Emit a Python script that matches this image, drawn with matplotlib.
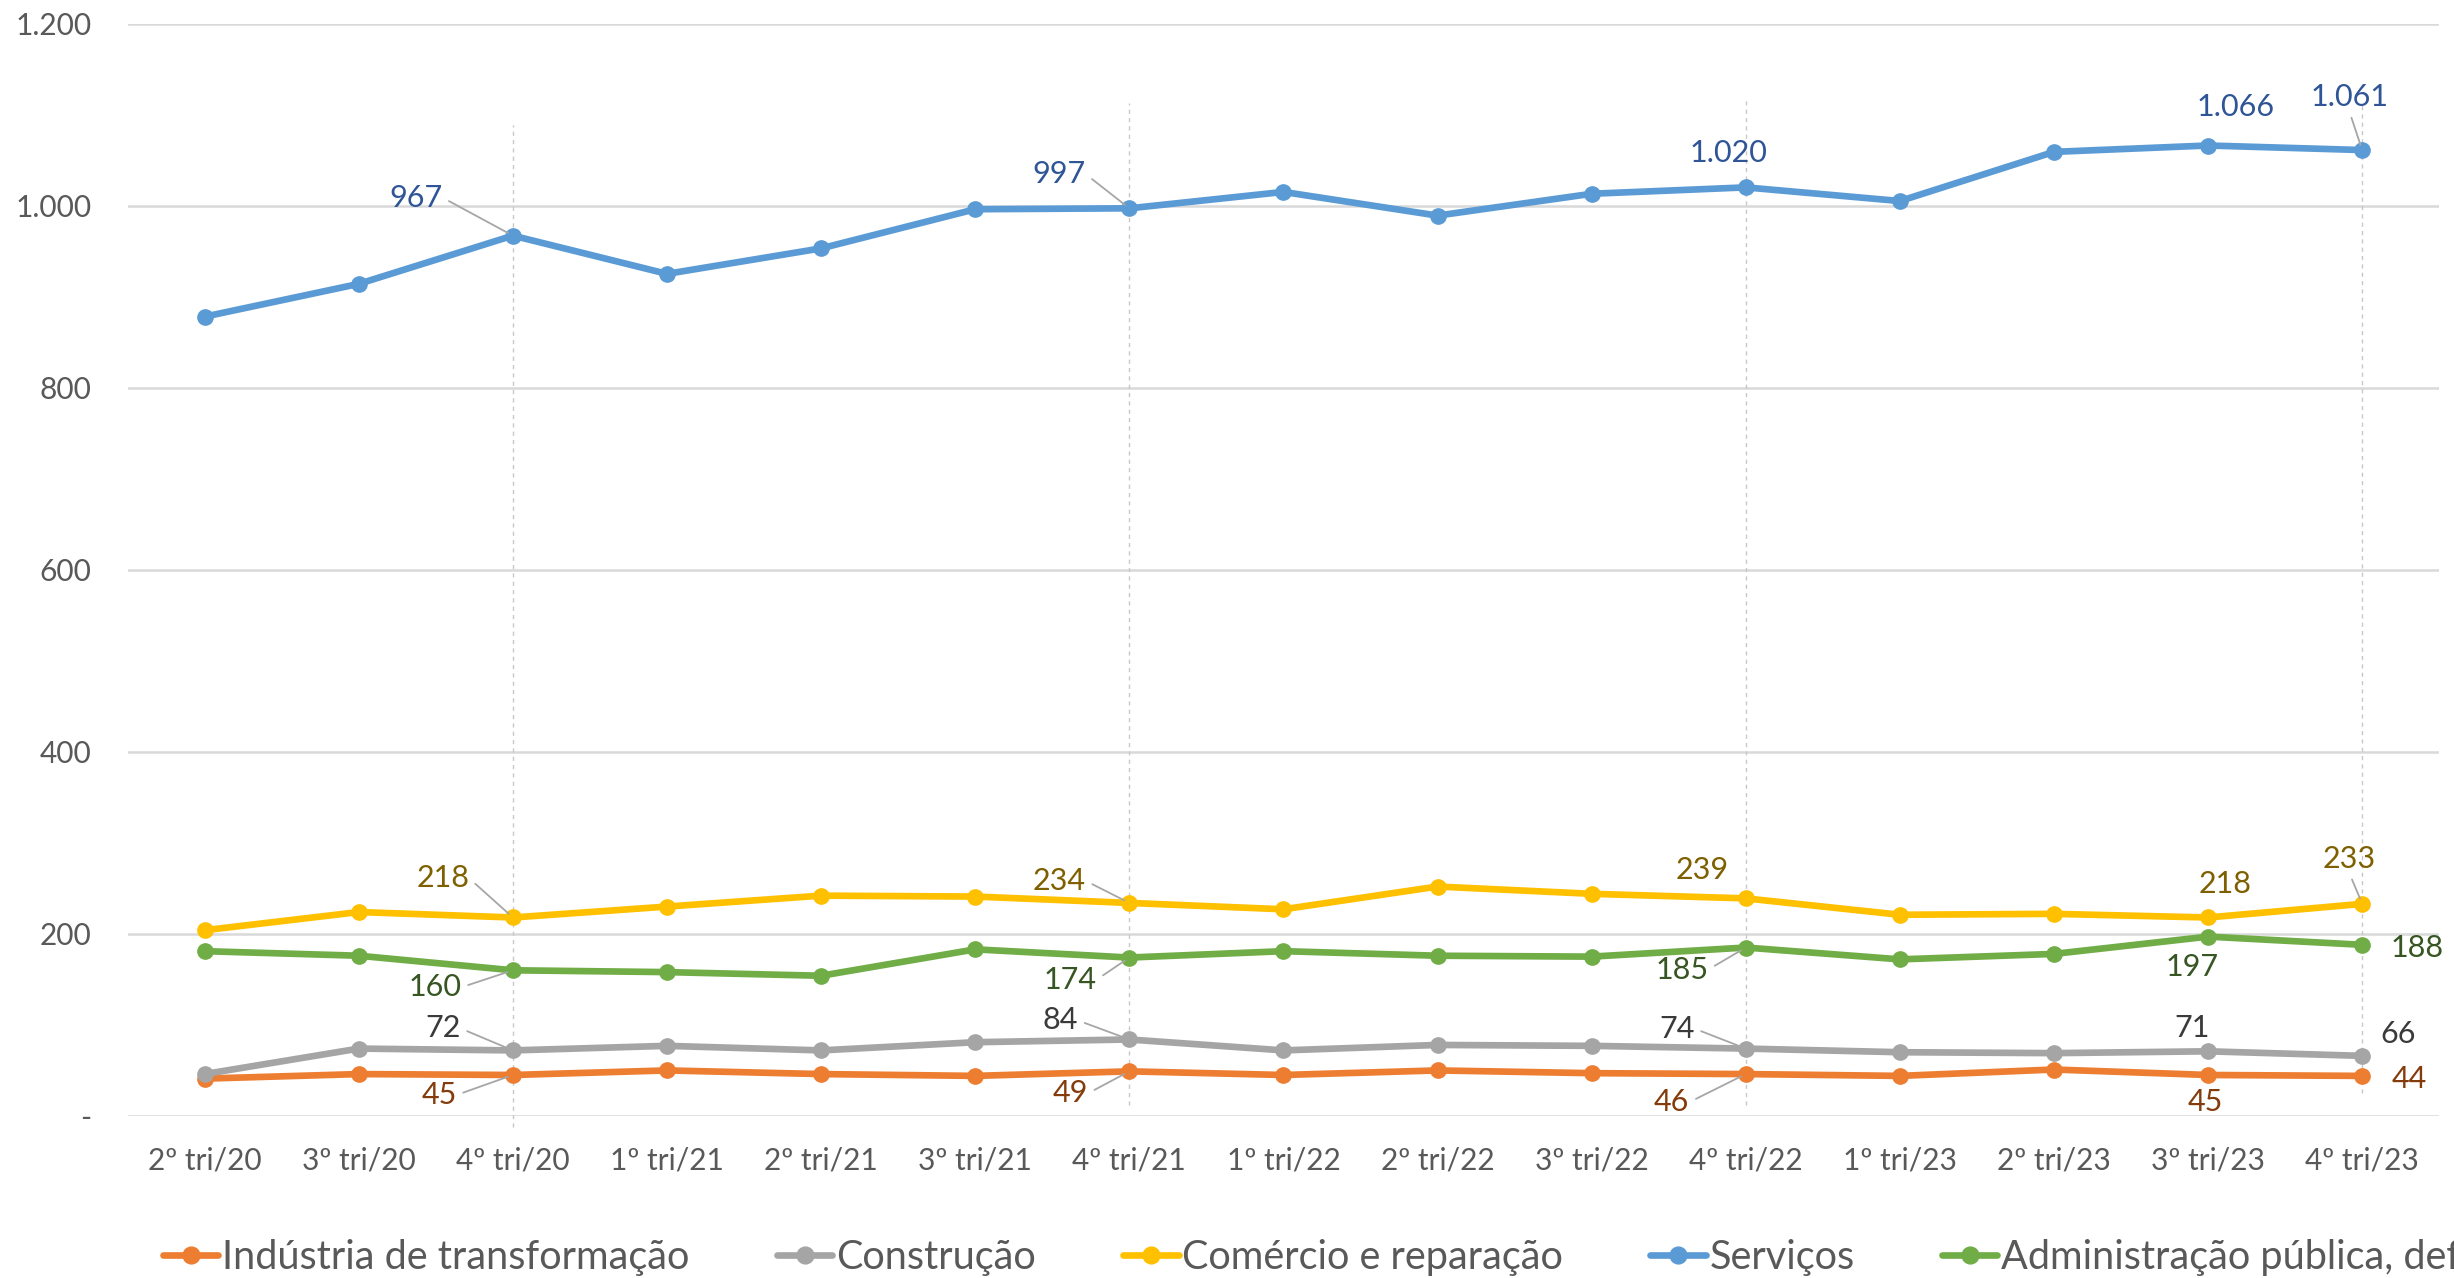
import matplotlib.pyplot as plt
from matplotlib.ticker import FuncFormatter

plt.rcParams['font.family'] = ['Lato', 'DejaVu Sans']

# Trimestres
quarters = ['2º tri/20', '3º tri/20', '4º tri/20', '1º tri/21', '2º tri/21',
            '3º tri/21', '4º tri/21', '1º tri/22', '2º tri/22', '3º tri/22',
            '4º tri/22', '1º tri/23', '2º tri/23', '3º tri/23', '4º tri/23']

# Ocupados por setor (mil pessoas)
industria = [41, 46, 45, 50, 46, 44, 49, 45, 50, 47, 46, 44, 51, 45, 44]
construcao = [46, 74, 72, 77, 72, 81, 84, 72, 78, 77, 74, 70, 69, 71, 66]
comercio = [204, 224, 218, 230, 242, 241, 234, 227, 252, 244, 239, 221, 222, 218, 233]
servicos = [878, 914, 967, 925, 953, 996, 997, 1015, 989, 1013, 1020, 1005, 1059, 1066, 1061]
adm_publica = [181, 176, 160, 158, 154, 183, 174, 181, 176, 175, 185, 172, 178, 197, 188]

names = ['Indústria de transformação', 'Construção', 'Comércio e reparação',
         'Serviços',
         'Administração pública, defesa, seguridade social, educação, '
         'saúde humana e serviços sociais']
series = [industria, construcao, comercio, servicos, adm_publica]

# quarters that get a value label, per series
labelled = {
    0: [2, 6, 10, 13, 14],
    1: [2, 6, 10, 13, 14],
    2: [2, 6, 10, 13, 14],
    3: [2, 6, 10, 13, 14],
    4: [2, 6, 10, 13, 14],
}

line_colors = ['#ED7D31', '#A5A5A5', '#FFC000', '#5B9BD5', '#70AD47']
label_colors = ['#843C0C', '#3A3A3A', '#7F6000', '#2F5597', '#375623']

# label offsets in pixels (dx, dy) and whether a leader line is drawn
label_layout = {
    0: [(-74, -20, True), (-59, -22, True), (-74, -28, True), (-3, -27, False), (47, -3, False)],
    1: [(-70, 22, True), (-69, 19, True), (-69, 20, True), (-16, 23, False), (36, 22, False)],
    2: [(-70, 39, True), (-70, 22, True), (-44, 28, False), (17, 33, False), (-13, 45, True)],
    3: [(-97, 38, True), (-70, 34, True), (-17, 34, False), (28, 39, False), (-13, 53, True)],
    4: [(-78, -17, True), (-59, -22, True), (-64, -22, True), (-16, -30, False), (55, -3, False)],
}

# dotted guides at the 4th quarter of each year: (x, ymin, ymax)
guides = [(2, -12, 1089), (6, 12, 1113), (10, 12, 1115), (14, 25, 1111)]


def fmt_thousands(v):
    v = int(round(v))
    if v == 0:
        return '-'
    return f'{v:,}'.replace(',', '.')


fig = plt.figure(figsize=(24.54, 12.78), dpi=100)
ax = fig.add_axes([0.052, 0.1268, 0.942, 0.8548])

x = list(range(len(quarters)))

for gx, y0, y1 in guides:
    ax.plot([gx, gx], [y0, y1], color='#C8C8C8', lw=1.0, ls=(0, (3, 3)),
            zorder=1, clip_on=False)

for i, (name, vals) in enumerate(zip(names, series)):
    ax.plot(x, vals, color=line_colors[i], lw=4.8, marker='o', ms=11,
            label=name, zorder=3, solid_capstyle='round')

for i, vals in enumerate(series):
    for idx, (dx, dy, leader) in zip(labelled[i], label_layout[i]):
        arrow = None
        if leader:
            rel = (1, 0.5) if dx < -30 else (0.5, 0)
            arrow = dict(arrowstyle='-', color='#A6A6A6', lw=1.3,
                         shrinkA=3, shrinkB=4, relpos=rel)
        ax.annotate(fmt_thousands(vals[idx]), (idx, vals[idx]),
                    xytext=(dx, dy), textcoords='offset pixels',
                    ha='center', va='center', fontsize=22,
                    color=label_colors[i], arrowprops=arrow, zorder=4)

ax.set_xlim(-0.5, len(quarters) - 0.5)
ax.set_ylim(0, 1200)
ax.set_yticks(range(0, 1201, 200))
ax.yaxis.set_major_formatter(FuncFormatter(lambda v, p: fmt_thousands(v)))
ax.set_xticks(x)
ax.set_xticklabels(quarters)
ax.tick_params(axis='both', length=0, labelsize=21.5, labelcolor='#595959')
ax.tick_params(axis='y', pad=26)
ax.tick_params(axis='x', pad=22)
ax.grid(axis='y', color='#D9D9D9', lw=1.8)
ax.set_axisbelow(True)
for side in ax.spines.values():
    side.set_visible(False)

fig.legend(loc='center left', bbox_to_anchor=(0.060, 0.0164), ncol=5,
           frameon=False, fontsize=28.5, labelcolor='#595959',
           handlelength=1.4, handletextpad=0.1, columnspacing=2.2,
           markerscale=1.1, borderaxespad=0)

fig.savefig('out.png', dpi=100)
